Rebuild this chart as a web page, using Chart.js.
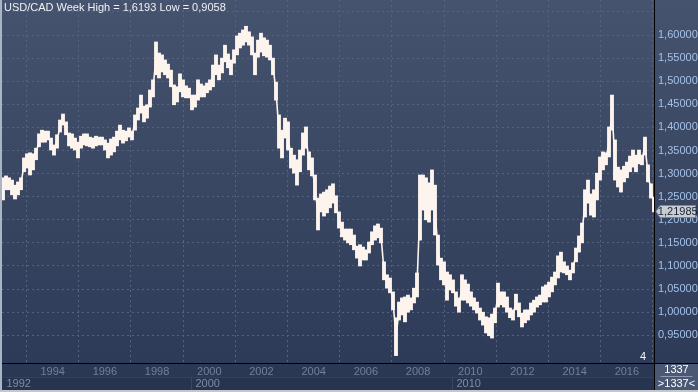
<!DOCTYPE html>
<html><head><meta charset="utf-8">
<script src="https://cdn.jsdelivr.net/npm/chart.js@4.4.1/dist/chart.umd.min.js"></script>
<style>html,body{margin:0;padding:0;background:#2c3a57;overflow:hidden}#wrap{width:698px;height:392px}</style>
</head><body><div id="wrap"><canvas id="c" width="698" height="392"></canvas></div>
<script>
// ---- data (each sample ≈ 6 weeks, weekly high/low envelope) ----
const title = 'USD/CAD Week High = 1,6193 Low = 0,9058';
const startYear = 1992.797;     // first sample (decimal year)
const stepYears = 0.11494;      // spacing between samples
const highs = [
1.291,1.295,1.291,1.286,1.275,1.282,1.291,1.334,1.343,1.345,
1.343,1.355,1.386,1.394,1.392,1.392,1.377,1.362,1.384,1.416,
1.429,1.412,1.388,1.386,1.377,1.368,1.381,1.386,1.386,1.379,
1.377,1.381,1.379,1.379,1.373,1.366,1.375,1.379,1.392,1.405,
1.394,1.392,1.399,1.392,1.427,1.442,1.470,1.446,1.449,1.481,
1.503,1.585,1.561,1.557,1.546,1.537,1.524,1.492,1.488,1.516,
1.503,1.490,1.485,1.470,1.470,1.503,1.494,1.490,1.496,1.503,
1.535,1.557,1.535,1.550,1.578,1.559,1.546,1.568,1.598,1.604,
1.611,1.619,1.607,1.596,1.561,1.589,1.604,1.594,1.589,1.578,
1.550,1.498,1.427,1.394,1.420,1.412,1.355,1.340,1.330,1.351,
1.388,1.401,1.347,1.334,1.297,1.247,1.256,1.260,1.265,1.273,
1.278,1.252,1.217,1.195,1.180,1.180,1.180,1.167,1.143,1.146,
1.141,1.135,1.152,1.174,1.187,1.191,1.182,1.109,1.081,1.074,
1.044,0.988,1.022,1.031,1.033,1.037,1.031,1.052,1.085,1.297,
1.297,1.291,1.280,1.308,1.275,1.167,1.117,1.109,1.087,1.081,
1.070,1.044,1.031,1.081,1.070,1.061,1.044,1.031,1.022,1.009,
1.000,0.990,0.988,0.996,1.009,1.063,1.044,1.044,1.033,1.009,
1.005,1.039,1.020,0.998,1.005,1.005,1.020,1.026,1.033,1.037,
1.055,1.059,1.065,1.076,1.087,1.122,1.130,1.109,1.100,1.091,
1.107,1.139,1.165,1.193,1.265,1.286,1.256,1.265,1.301,1.336,
1.347,1.345,1.401,1.470,1.373,1.314,1.308,1.316,1.325,1.338,
1.351,1.340,1.351,1.340,1.379,1.319,1.278,1.249];
const lows = [
1.243,1.265,1.265,1.254,1.245,1.254,1.265,1.304,1.312,1.297,
1.308,1.330,1.358,1.368,1.368,1.373,1.351,1.340,1.355,1.390,
1.405,1.384,1.360,1.355,1.351,1.334,1.355,1.362,1.360,1.358,
1.355,1.360,1.362,1.362,1.351,1.334,1.340,1.347,1.360,1.373,
1.366,1.371,1.379,1.373,1.394,1.416,1.431,1.412,1.420,1.444,
1.466,1.514,1.507,1.520,1.514,1.507,1.488,1.449,1.455,1.477,
1.466,1.464,1.464,1.438,1.444,1.459,1.466,1.466,1.475,1.481,
1.488,1.514,1.503,1.518,1.542,1.529,1.514,1.539,1.557,1.572,
1.578,1.585,1.578,1.557,1.514,1.552,1.563,1.555,1.552,1.546,
1.514,1.459,1.355,1.334,1.377,1.351,1.312,1.301,1.275,1.304,
1.340,1.355,1.308,1.295,1.243,1.178,1.217,1.208,1.215,1.226,
1.236,1.215,1.182,1.163,1.156,1.150,1.146,1.135,1.117,1.100,
1.113,1.113,1.128,1.146,1.156,1.161,1.150,1.070,1.052,1.042,
1.005,0.906,0.983,0.994,0.979,1.000,1.005,1.020,1.033,1.156,
1.221,1.200,1.195,1.221,1.167,1.102,1.070,1.059,1.026,1.048,
1.042,1.013,1.000,1.026,1.026,1.020,1.013,1.005,0.998,0.983,
0.972,0.955,0.949,0.944,0.977,1.011,1.016,1.011,1.000,0.988,
0.983,1.005,0.990,0.968,0.977,0.983,0.994,1.000,1.011,1.016,
1.022,1.022,1.033,1.044,1.059,1.074,1.087,1.085,1.081,1.070,
1.085,1.109,1.130,1.150,1.206,1.236,1.210,1.206,1.243,1.286,
1.308,1.319,1.336,1.394,1.286,1.271,1.260,1.282,1.291,1.304,
1.314,1.304,1.321,1.319,1.340,1.282,1.247,1.217];
const lastClose = 1.21985;
const gridYears = [1993,1994,1995,1996,1997,1998,1999,2000,2001,2002,2003,2004,2005,2006,2007,2008,2009,2010,2011,2012,2013,2014,2015,2016,2017];
const yearLabels = [1994,1996,1998,2000,2002,2004,2006,2008,2010,2012,2014,2016];
const eraYears = [1992,2000,2010];
const yTicks = [0.95,1.00,1.05,1.10,1.15,1.20,1.25,1.30,1.35,1.40,1.45,1.50,1.55,1.60,1.65];
const yLabelMax = 1.60;
const counterTop = '1337', counterBottom = '>1337<';
const markerText = '4';

// ---- styling ----
const FONT = '"Liberation Sans Narrow","Arial Narrow","Liberation Sans",Arial,sans-serif';
const GRID = '#56637f';
const BAR = '#fdf4ee';
const TICK_OFFSET = 0.7;     // year ticks sit ~0.7 yr into the year in the source chart
const LABEL_INSET = 0.17;    // era labels start a few px right of their boundary
const X_MIN = 1992.7586, X_MAX = 2017.7778;
const Y_MIN = 0.8900, Y_MAX = 1.6758;

const decor = {
  id: 'decor',
  beforeDraw(chart) {
    const {ctx, chartArea: a, width: W, height: H} = chart;
    const sx = chart.scales.x, sx2 = chart.scales.x2;
    ctx.save();
    const g = ctx.createLinearGradient(0, 0, 0, a.bottom);
    g.addColorStop(0, '#46536e'); g.addColorStop(1, '#2d3b58');
    ctx.fillStyle = g; ctx.fillRect(0, 0, W, a.bottom);
    ctx.fillStyle = '#2b3854'; ctx.fillRect(0, sx.top, W, sx.bottom - sx.top);
    ctx.fillStyle = '#27344f'; ctx.fillRect(0, sx2.top, W, sx2.bottom - sx2.top);
    ctx.fillStyle = '#34415c'; ctx.fillRect(0, sx2.top, a.right, 1);
    eraYears.slice(1).forEach(v => {
      const px = Math.round(sx2.getPixelForValue(v));
      ctx.fillStyle = '#3a4763'; ctx.fillRect(px, sx2.top, 1, sx2.bottom - sx2.top);
    });
    ctx.fillStyle = '#4a5874'; ctx.fillRect(a.right, a.bottom, W - a.right, H - 2 - a.bottom);
    ctx.restore();
  },
  afterDraw(chart) {
    const {ctx, chartArea: a, width: W, height: H} = chart;
    const sy = chart.scales.y;
    ctx.save();
    ctx.fillStyle = '#000';
    ctx.fillRect(0, a.bottom, W, 1);
    ctx.fillRect(a.right - 1, 0, 1, H - 2);
    ctx.fillStyle = '#aab4c3'; ctx.fillRect(0, 0, 2, H);
    ctx.fillStyle = '#c3c8cf'; ctx.fillRect(0, H - 2, W, 2);
    ctx.font = '11px ' + FONT; ctx.textBaseline = 'middle'; ctx.textAlign = 'left';
    ctx.fillStyle = '#eef1f5'; ctx.fillText(title, 4, 8);
    ctx.fillStyle = '#f4f4f4'; ctx.textAlign = 'center';
    ctx.fillText(markerText, 643, 357);
    const yv = Math.round(sy.getPixelForValue(lastClose)) + 0.5;
    const x0 = a.right + 1, xb = a.right + 5, x1 = W - 2.5;
    ctx.beginPath();
    ctx.moveTo(x0, yv); ctx.lineTo(xb, yv - 6); ctx.lineTo(x1, yv - 6);
    ctx.lineTo(x1, yv + 6); ctx.lineTo(xb, yv + 6); ctx.closePath();
    ctx.fillStyle = '#c8ccd3'; ctx.fill();
    ctx.strokeStyle = '#7d8797'; ctx.lineWidth = 1; ctx.stroke();
    ctx.fillStyle = '#1b2331'; ctx.textAlign = 'center';
    ctx.fillText(lastClose.toFixed(5).replace('.', ','), (xb + x1) / 2, yv);
    const cx = (a.right + W) / 2;
    ctx.fillStyle = '#ffffff';
    ctx.fillText(counterTop, cx, 370);
    ctx.fillStyle = '#8e99ab'; ctx.fillRect(cx - 16, 376, 32, 1);
    ctx.fillStyle = '#ffffff';
    ctx.fillText(counterBottom, cx, 383.5);
    ctx.restore();
  }
};

const fixPad = s => { s.paddingLeft = 0; s.paddingRight = 0; s.paddingTop = 0; s.paddingBottom = 0; };
const xOf = i => startYear + i * stepYears;

new Chart(document.getElementById('c'), {
  type: 'bar',
  data: {
    datasets: [{
      type: 'bar',
      data: highs.map((h, i) => ({x: xOf(i), y: [lows[i], h]})),
      backgroundColor: BAR,
      borderWidth: 0,
      barThickness: 3.2,
      grouped: false
    }, {
      type: 'line',
      data: highs.map((h, i) => ({x: xOf(i), y: (h + lows[i]) / 2})),
      borderColor: BAR,
      borderWidth: 1.6,
      pointRadius: 0,
      tension: 0
    }]
  },
  options: {
    responsive: false,
    animation: false,
    devicePixelRatio: 1,
    layout: {padding: {left: 2, top: 0, right: 0, bottom: 2}},
    plugins: {legend: {display: false}, tooltip: {enabled: false}, title: {display: false}},
    scales: {
      x: {
        type: 'linear', position: 'bottom', min: X_MIN, max: X_MAX, offset: false, bounds: 'data',
        grid: {offset: false, drawTicks: false, lineWidth: 1,
          color: c => (c.tick && Math.round(c.tick.value - TICK_OFFSET) % 2 === 1) ? GRID : 'rgba(0,0,0,0)'},
        border: {display: false, dash: [2, 3]},
        ticks: {autoSkip: false, maxRotation: 0, padding: 2, color: '#6f809c',
          font: {family: FONT, size: 11},
          callback: v => { const yr = Math.round(v - TICK_OFFSET); return yearLabels.includes(yr) ? String(yr) : ''; }},
        afterBuildTicks: s => { s.ticks = gridYears.map(y => ({value: y + TICK_OFFSET})); },
        afterFit: s => { s.height = 14; fixPad(s); }
      },
      x2: {
        type: 'linear', position: 'bottom', min: X_MIN, max: X_MAX, offset: false, bounds: 'data',
        grid: {display: false, drawTicks: false},
        border: {display: false},
        ticks: {autoSkip: false, maxRotation: 0, padding: 0, align: 'start', color: '#7d8ca6',
          font: {family: FONT, size: 11},
          callback: (v, i) => String(eraYears[i])},
        afterBuildTicks: s => { s.ticks = eraYears.map(y => ({value: Math.max(y, X_MIN) + LABEL_INSET})); },
        afterFit: s => { s.height = 13; fixPad(s); }
      },
      y: {
        type: 'linear', position: 'right', min: Y_MIN, max: Y_MAX, bounds: 'data',
        grid: {color: GRID, drawTicks: false, lineWidth: 1},
        border: {display: false, dash: [2, 3]},
        ticks: {padding: 3, color: '#a3c1e8', font: {family: FONT, size: 11},
          callback: v => v > yLabelMax + 0.001 ? '' : v.toFixed(5).replace('.', ',')},
        afterBuildTicks: s => { s.ticks = yTicks.map(v => ({value: v})); },
        afterFit: s => { s.width = 43; fixPad(s); }
      }
    }
  },
  plugins: [decor]
});
</script>
</body></html>
